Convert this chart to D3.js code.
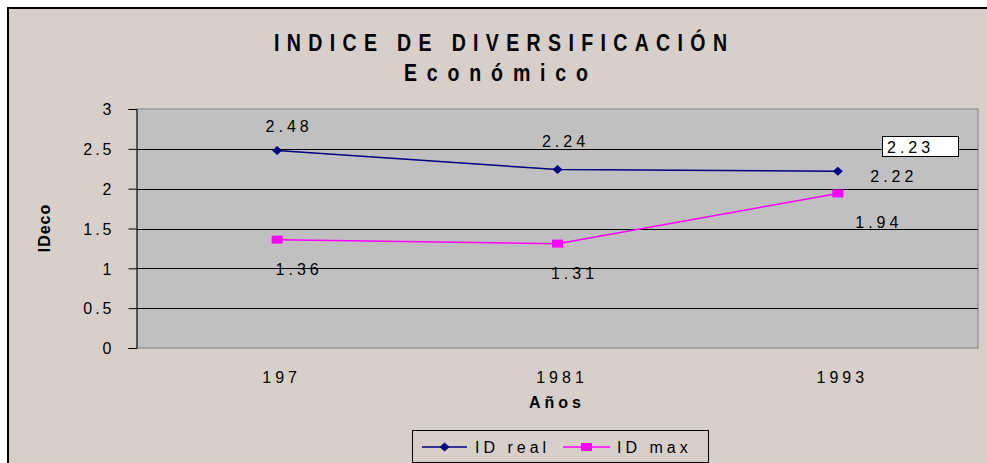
<!DOCTYPE html>
<html>
<head>
<meta charset="utf-8">
<script src="https://cdn.jsdelivr.net/npm/d3@7/dist/d3.min.js"></script>
<style>
  html, body { margin: 0; padding: 0; background: #fff; }
  text { font-family: "Liberation Sans", Arial, sans-serif; }
</style>
</head>
<body>
<div id="chart"></div>
<script>
// data
const years = ["197", "1981", "1993"];
const idReal = [2.48, 2.24, 2.22];
const idMax = [1.36, 1.31, 1.94];
const yTicks = [0, 0.5, 1, 1.5, 2, 2.5, 3];
const looseLabel = "2.23"; // free text box on the chart

const width = 987, height = 463;
const plot = { left: 137, right: 978, top: 109, bottom: 348 };

const svg = d3.select("#chart").append("svg")
  .attr("width", width)
  .attr("height", height);

// chart frame
svg.append("rect")
  .attr("x", 8).attr("y", 8)
  .attr("width", 1000).attr("height", 480)
  .attr("fill", "#d7cfc9")
  .attr("stroke", "#000").attr("stroke-width", 2);

const x = d3.scalePoint().domain(years).range([plot.left, plot.right]).padding(0.5);
const y = d3.scaleLinear().domain([0, 3]).range([plot.bottom, plot.top]);

// plot area
svg.append("rect")
  .attr("x", plot.left).attr("y", plot.top)
  .attr("width", plot.right - plot.left).attr("height", plot.bottom - plot.top)
  .attr("fill", "#c0c0c0")
  .attr("stroke", "#808080").attr("stroke-width", 1);

// gridlines
svg.append("g").selectAll("line")
  .data(yTicks.filter(d => d > 0 && d < 3))
  .enter().append("line")
  .attr("x1", plot.left).attr("x2", plot.right)
  .attr("y1", d => Math.round(y(d)) + 0.5).attr("y2", d => Math.round(y(d)) + 0.5)
  .attr("stroke", "#000").attr("stroke-width", 1);

// y axis
const yAxis = svg.append("g")
  .attr("transform", `translate(${plot.left - 0.5},0)`)
  .call(d3.axisLeft(y).tickValues(yTicks).tickSize(8).tickPadding(14)
    .tickFormat(d => String(d)));
yAxis.select(".domain").attr("stroke", "#000");
yAxis.selectAll(".tick line").attr("stroke", "#000");
yAxis.selectAll(".tick text")
  .attr("font-size", 16)
  .attr("letter-spacing", 3)
  .attr("fill", "#000")
  .attr("dy", "0.36em");

// x axis labels
const xAxis = svg.append("g")
  .attr("transform", `translate(0,${plot.bottom})`)
  .call(d3.axisBottom(x).tickSize(0).tickPadding(24));
xAxis.select(".domain").remove();
xAxis.selectAll(".tick text")
  .attr("font-size", 16)
  .attr("letter-spacing", 4)
  .attr("fill", "#000")
  .attr("dx", 4);

// titles (narrow bold look: squeeze horizontally)
const sx = 0.85;
svg.append("text")
  .attr("transform", `translate(274,51) scale(${sx},1)`)
  .attr("font-size", 23).attr("font-weight", "bold")
  .attr("textLength", 453 / sx).attr("lengthAdjust", "spacing")
  .text("INDICE DE DIVERSIFICACIÓN");
svg.append("text")
  .attr("transform", `translate(404,81) scale(${sx},1)`)
  .attr("font-size", 23).attr("font-weight", "bold")
  .attr("textLength", 184 / sx).attr("lengthAdjust", "spacing")
  .text("Económico");
svg.append("text")
  .attr("x", 557).attr("y", 408)
  .attr("font-size", 16).attr("font-weight", "bold")
  .attr("letter-spacing", 4)
  .attr("text-anchor", "middle")
  .text("Años");
svg.append("text")
  .attr("transform", "translate(50,228) rotate(-90)")
  .attr("font-size", 16).attr("font-weight", "bold")
  .attr("letter-spacing", 1)
  .attr("text-anchor", "middle")
  .text("IDeco");

// series
const series = [
  { name: "ID real", values: idReal, color: "#000080", marker: "diamond",
    labelOffsets: [[12, -18], [8, -23], [56, 11]] },
  { name: "ID max", values: idMax, color: "#ff00ff", marker: "square",
    labelOffsets: [[22, 35], [17, 35], [41, 35]] }
];

const line = d3.line().x((d, i) => x(years[i])).y(d => y(d));

function drawMarker(g, kind, color, cx, cy) {
  if (kind === "diamond") {
    g.append("path")
      .attr("d", `M${cx},${cy - 4.5}L${cx + 5},${cy}L${cx},${cy + 4.5}L${cx - 5},${cy}Z`)
      .attr("fill", color);
  } else {
    g.append("rect")
      .attr("x", cx - 5.5).attr("y", cy - 4)
      .attr("width", 11).attr("height", 8)
      .attr("fill", color);
  }
}

series.forEach(s => {
  const g = svg.append("g");
  g.append("path")
    .datum(s.values)
    .attr("d", line)
    .attr("fill", "none")
    .attr("stroke", s.color)
    .attr("stroke-width", 1.5);
  s.values.forEach((v, i) => drawMarker(g, s.marker, s.color, x(years[i]), y(v)));
  g.selectAll("text.lbl")
    .data(s.values)
    .enter().append("text")
    .attr("class", "lbl")
    .attr("x", (d, i) => x(years[i]) + s.labelOffsets[i][0])
    .attr("y", (d, i) => y(d) + s.labelOffsets[i][1])
    .attr("text-anchor", "middle")
    .attr("font-size", 16)
    .attr("letter-spacing", 4)
    .text(d => d.toFixed(2));
});

// loose text box
svg.append("rect")
  .attr("x", 882.5).attr("y", 136.5)
  .attr("width", 76).attr("height", 20)
  .attr("fill", "#fff").attr("stroke", "#000");
svg.append("text")
  .attr("x", 887).attr("y", 153)
  .attr("font-size", 16)
  .attr("letter-spacing", 4)
  .text(looseLabel);

// legend
const legend = svg.append("g");
legend.append("rect")
  .attr("x", 412.5).attr("y", 430.5)
  .attr("width", 296).attr("height", 32)
  .attr("fill", "#d7cfc9").attr("stroke", "#000");
const legendPos = [{ x1: 422, x2: 467, tx: 475 }, { x1: 563, x2: 610, tx: 617 }];
series.forEach((s, i) => {
  const p = legendPos[i];
  legend.append("line")
    .attr("x1", p.x1).attr("x2", p.x2)
    .attr("y1", 447).attr("y2", 447)
    .attr("stroke", s.color).attr("stroke-width", 1.5);
  drawMarker(legend, s.marker, s.color, (p.x1 + p.x2) / 2, 447);
  legend.append("text")
    .attr("x", p.tx).attr("y", 453)
    .attr("font-size", 16)
    .attr("letter-spacing", 4)
    .text(s.name);
});
</script>
</body>
</html>
